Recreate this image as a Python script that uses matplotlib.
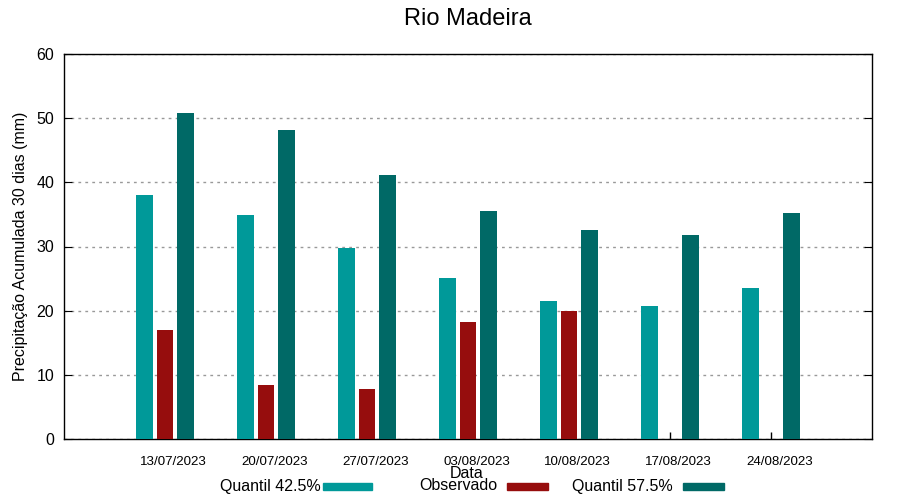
import matplotlib
matplotlib.use("Agg")
import matplotlib.pyplot as plt
from matplotlib.patches import Rectangle
import numpy as np

plt.rcParams['font.family'] = ['Liberation Sans', 'DejaVu Sans']

dates = ["13/07/2023", "20/07/2023", "27/07/2023", "03/08/2023",
         "10/08/2023", "17/08/2023", "24/08/2023"]
q425 = [38.1, 34.9, 29.8, 25.1, 21.5, 20.7, 23.6]
observado = [17.0, 8.4, 7.8, 18.3, 19.9, np.nan, np.nan]
q575 = [50.8, 48.1, 41.2, 35.6, 32.6, 31.8, 35.2]

c_q425 = "#009999"
c_obs = "#960d0d"
c_q575 = "#006966"

fig = plt.figure(figsize=(9, 5), dpi=100)
ax = fig.add_axes([64/900, 1-439/500, (872-64)/900, (439-54)/500])

x = np.arange(len(dates))
w = 0.16
ax.bar(x - 0.203, q425, width=w, color=c_q425, zorder=3)
ax.bar(x, observado, width=0.168, color=c_obs, zorder=3)
ax.bar(x + 0.203, q575, width=w, color=c_q575, zorder=3)

ax.set_xlim(-1, 7)
ax.set_ylim(0, 60)
ax.set_yticks(np.arange(0, 61, 10))
ax.set_xticks(x)
ax.set_xticklabels([])
ax.set_xticks(x + 8.5/101, minor=True)
ax.set_xticklabels(dates, minor=True, fontsize=9.6)
ax.tick_params(axis='x', which='major', direction='in', length=5, width=1)
ax.tick_params(axis='x', which='minor', length=0, pad=12)
ax.tick_params(axis='y', direction='in', length=6, labelsize=11.5, right=True, pad=7)
ax.grid(axis='y', color='#999999', linestyle=(0, (2, 3)), linewidth=1, zorder=0)
for s in ax.spines.values():
    s.set_linewidth(1)
    s.set_color('black')

ax.set_ylabel("Precipitação Acumulada 30 dias (mm)", fontsize=11.5, labelpad=6)
fig.text(467/900, 1-474/500, "Data", ha='center', va='center', fontsize=11.5)
fig.text(468/900, 1-19/500, "Rio Madeira", ha='center', va='center', fontsize=17)

# legend
items = [("Quantil 42.5%", c_q425, 321, 323, 372),
         ("Observado", c_obs, 497, 507, 548),
         ("Quantil 57.5%", c_q575, 673, 683, 724)]
for label, col, tx, x0, x1 in items:
    fig.text(tx/900, 1-486/500, label, ha='right', va='center', fontsize=11.5)
    fig.patches.append(Rectangle((x0/900, 1-490/500), (x1-x0)/900, 7/500,
                                 transform=fig.transFigure, color=col, figure=fig))

fig.savefig("out.png", dpi=100)
